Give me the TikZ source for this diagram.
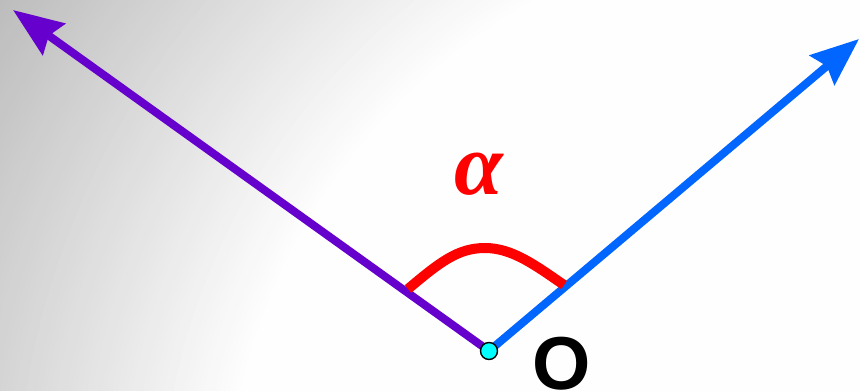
\documentclass[tikz,border=0pt]{standalone}
\usepackage{fontspec}
\setmainfont{Liberation Serif}
\newfontfamily\labelsans{Liberation Sans}
\usetikzlibrary{arrows.meta}
\definecolor{raypurple}{HTML}{6600CC}
\definecolor{rayblue}{HTML}{0066FF}
\definecolor{vertexcyan}{RGB}{0,255,255}
\definecolor{markred}{RGB}{255,0,0}
\tikzset{
  ray/.style={line width=8pt},
  anglemark/.style={draw=markred, line width=10pt},
  vertex/.style={circle, fill=vertexcyan, draw=black, line width=1.4pt, minimum size=17pt, inner sep=0pt},
}
\begin{document}
\begin{tikzpicture}[x=1pt,y=-1pt]
\useasboundingbox (0,0) rectangle (860,391);
\begin{scope}
  \clip (0,0) rectangle (860,391);
  \fill[white] (0,0) rectangle (860,391);
  \foreach \r in {985,980,...,592} {
    \pgfmathsetmacro\p{max(0,26*(\r-592)/385)}
    \fill[black!\p!white] (825,524) circle (\r pt);
  }
\end{scope}
\coordinate (Oc) at (489,351);
\coordinate (L) at (13,10);
\coordinate (R) at (859,39);
\draw[ray, raypurple, -{Stealth[length=50pt, width=38pt, inset=6pt]}] (Oc) -- (L);
\draw[ray, rayblue, -{Stealth[length=48pt, width=38pt, inset=6pt]}] (Oc) -- (R);
\coordinate (A1) at (408,289);
\coordinate (A2) at (485,248);
\coordinate (A3) at (564,285);
\draw[anglemark] (A1) .. controls (440,262) and (458,248) .. (A2) .. controls (512,248) and (535,265) .. (A3);
\node[vertex] (O) at (Oc) {};
\node[anchor=base, inner sep=0pt, text=markred, font=\fontsize{88}{88}\selectfont\bfseries\itshape] (alpha) at (479,194) {α};
\node[anchor=base, inner sep=0pt, font=\labelsans\fontsize{75}{75}\selectfont\bfseries] (olabel) at (561.5,389) {O};
\end{tikzpicture}
\end{document}
